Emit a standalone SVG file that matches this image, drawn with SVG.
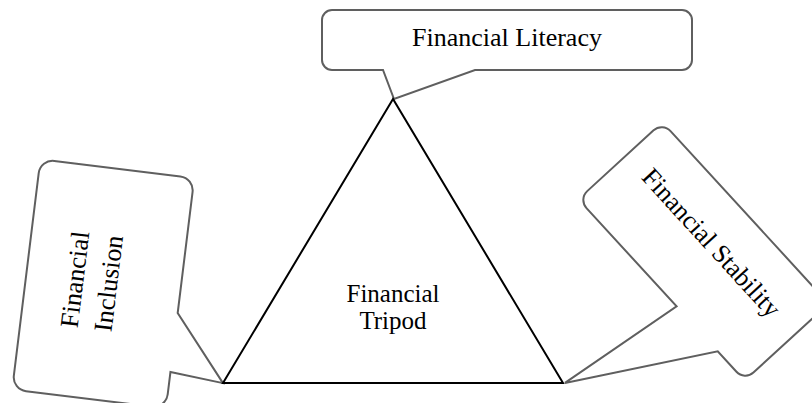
<svg xmlns="http://www.w3.org/2000/svg" width="812" height="403" viewBox="0 0 812 403">
  <style>
    .callout { fill: #ffffff; stroke: #5f5f5f; stroke-width: 2; stroke-linejoin: miter; }
    .tri { fill: none; stroke: #000000; stroke-width: 2; stroke-linejoin: miter; }
    .label { font-family: "Liberation Serif", "Times New Roman", serif; font-size: 26px; fill: #000000; text-anchor: middle; }
    .mid { font-size: 25px; }
  </style>
  <rect width="812" height="403" fill="#ffffff"/>

  <!-- Left callout: Financial Inclusion -->
  <g id="inclusion" transform="translate(103.2,283.8) rotate(7)">
    <path class="callout" d="M -63.5,-116 H 63.5 A14 14 0 0 1 77.5,-102 V 20 L 131,84 L 77.5,79.4 V 102 A14 14 0 0 1 63.5,116 H -63.5 A14 14 0 0 1 -77.5,102 V -102 A14 14 0 0 1 -63.5,-116 Z"/>
    <g transform="rotate(-90)">
      <text class="label" x="1" y="-20">Financial</text>
      <text class="label" x="1" y="14">Inclusion</text>
    </g>
  </g>

  <!-- Top callout: Financial Literacy -->
  <g id="literacy">
    <path class="callout" d="M 332,10 H 682 A10 10 0 0 1 692,20 V 60 A10 10 0 0 1 682,70 H 475 L 394,99 L 383,70 H 332 A10 10 0 0 1 322,60 V 20 A10 10 0 0 1 332,10 Z"/>
    <text class="label" x="507" y="46">Financial Literacy</text>
  </g>

  <!-- Right callout: Financial Stability -->
  <g id="stability" transform="translate(703.5,251.4) rotate(47.5)">
    <path class="callout" d="M -111,-57 H 111 A12 12 0 0 1 123,-45 V 45 A12 12 0 0 1 111,57 H 83.3 L 3.4,191 L 22.4,57 H -111 A12 12 0 0 1 -123,45 V -45 A12 12 0 0 1 -111,-57 Z"/>
    <text class="label" x="-1" y="-3">Financial Stability</text>
  </g>

  <!-- Central triangle -->
  <g id="tripod">
    <polygon class="tri" points="393,99 223,383 563,383"/>
    <text class="label mid" x="393" y="302">Financial</text>
    <text class="label mid" x="393" y="329">Tripod</text>
  </g>
</svg>
